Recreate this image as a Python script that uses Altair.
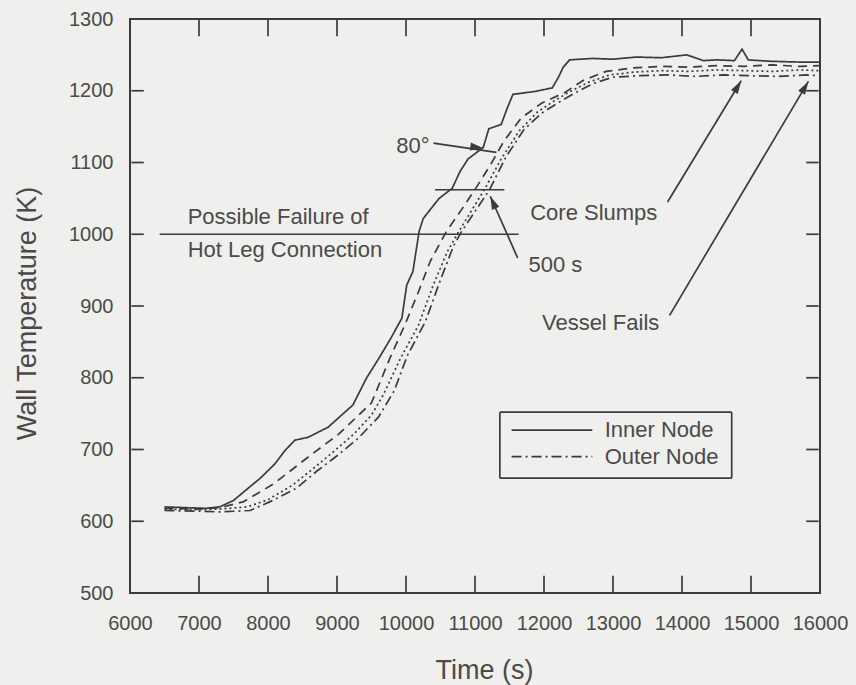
import altair as alt
import pandas as pd

# Wall temperature histories: time (s) and temperature (K) for four nodes through the wall
inner_time = [6500, 6800, 7100, 7300, 7500, 7700, 7900, 8100, 8250, 8390,
              8580, 8870, 9230, 9430, 9600, 9780, 9940, 10010, 10100, 10190,
              10250, 10480, 10670, 10780, 10900, 11120, 11200, 11380, 11460, 11550,
              11870, 12120, 12210, 12280, 12370, 12700, 13000, 13340, 13700, 14070,
              14310, 14500, 14760, 14870, 14960, 15300, 15700, 16000]
inner_temp = [620, 619, 618, 620, 629, 645, 661, 680, 699, 713,
              717, 731, 762, 800, 826, 855, 883, 929, 948, 1004,
              1022, 1050, 1064, 1087, 1105, 1121, 1147, 1153, 1174, 1195,
              1199, 1204, 1219, 1233, 1243, 1245, 1244, 1247, 1246, 1250,
              1242, 1243, 1242, 1258, 1243, 1241, 1240, 1240]

node2_time = [6500, 7000, 7300, 7640, 8080, 8630, 9020, 9500, 9770, 9990,
              10190, 10350, 10580, 10810, 11010, 11220, 11420, 11670, 11970, 12310,
              12560, 12900, 13300, 13700, 14100, 14500, 14900, 15300, 15700, 16000]
node2_temp = [618, 617, 619, 627, 652, 693, 721, 765, 828, 875,
              922, 962, 1003, 1035, 1064, 1096, 1130, 1162, 1183, 1198,
              1214, 1227, 1232, 1234, 1233, 1235, 1234, 1236, 1234, 1235]

node3_time = [6500, 7000, 7300, 7700, 8000, 8350, 8650, 8950, 9250, 9500,
              9670, 9920, 10180, 10390, 10600, 10760, 11140, 11380, 11640, 11900,
              12150, 12400, 12650, 12950, 13300, 13700, 14100, 14500, 14900, 15300,
              15700, 16000]
node3_temp = [617, 616, 617, 620, 630, 650, 673, 697, 722, 748,
              776, 827, 873, 928, 976, 1003, 1063, 1105, 1144, 1170,
              1186, 1200, 1212, 1222, 1226, 1228, 1227, 1229, 1228, 1227,
              1229, 1228]

outer_time = [6500, 7000, 7300, 7740, 8070, 8410, 8710, 9010, 9300, 9600,
              9830, 10020, 10280, 10490, 10690, 10800, 11210, 11450, 11710, 11970,
              12200, 12450, 12710, 13000, 13400, 13800, 14200, 14600, 15000, 15400,
              15800, 16000]
outer_temp = [615, 614, 613, 615, 629, 646, 670, 692, 715, 745,
              782, 831, 878, 934, 984, 1003, 1062, 1108, 1146, 1169,
              1183, 1197, 1210, 1219, 1221, 1222, 1220, 1222, 1221, 1220,
              1222, 1221]

node_names = ["Inner Node", "Node 2", "Node 3", "Outer Node"]
node_dashes = [[1, 0], [9, 6], [2, 3], [10, 4, 2, 4]]

x_ticks = list(range(6000, 16001, 1000))
y_ticks = list(range(500, 1301, 100))

series = [
    ("Inner Node", inner_time, inner_temp),
    ("Node 2", node2_time, node2_temp),
    ("Node 3", node3_time, node3_temp),
    ("Outer Node", outer_time, outer_temp),
]
curves = pd.DataFrame(
    [{"time": t, "temp": v, "node": name} for name, ts, vs in series for t, v in zip(ts, vs)]
)

# Annotation text (data coordinates)
labels = pd.DataFrame({
    "text": ["Possible Failure of", "Hot Leg Connection", "80\u00b0",
             "Core Slumps", "500 s", "Vessel Fails", "Inner Node", "Outer Node"],
    "time": [6836, 6836, 9860, 11800, 11776, 11970, 12880, 12880],
    "temp": [1024, 978, 1123, 1030, 957, 876, 727, 690],
})

# Pointer lines, threshold bars and the legend frame
segments = [
    (6430, 11630, 1000, 1000),    # hot leg failure threshold
    (10420, 11425, 1062, 1062),   # 500 s bar
    (10398, 11310, 1127, 1114),   # 80 deg pointer
    (13791, 14858, 1045, 1214),   # core slumps arrow
    (13820, 15832, 887, 1213),    # vessel fails arrow
    (11618, 11221, 967, 1053),    # 500 s arrow
    (11360, 14720, 752, 752),     # legend box
    (11360, 14720, 660, 660),
    (11360, 11360, 660, 752),
    (14720, 14720, 660, 752),
]
# Inward tick marks on all four frame sides (starting just inside the frame line)
for t in x_ticks[1:-1]:
    segments.append((t, t, 501.5, 524))
    segments.append((t, t, 1276, 1298.5))
for v in y_ticks[1:-1]:
    segments.append((6020, 6200, v, v))
    segments.append((15800, 15980, v, v))
segs = pd.DataFrame(segments, columns=["time", "time2", "temp", "temp2"])

# Legend key lines, styled like the curves they stand for
keys = pd.DataFrame({
    "node": ["Inner Node", "Outer Node"],
    "time": [11530, 11530], "time2": [12700, 12700],
    "temp": [727, 690],
})

heads = pd.DataFrame({
    "time": [14858, 15832, 11221, 11123],
    "temp": [1214, 1213, 1053, 1120],
    "ang": [31, 31, 336, 97],
})

INK = "#3b3b3b"
TEXT = "#4a4a4a"
BG = "#efefed"
FONT = "Liberation Sans"

x_scale = alt.Scale(domain=[6000, 16000], nice=False, zero=False)
y_scale = alt.Scale(domain=[500, 1300], nice=False, zero=False)
dash_scale = alt.Scale(domain=node_names, range=node_dashes)

x_axis = alt.Axis(
    values=x_ticks, format="d", title="Time (s)", ticks=False, tickSize=0, domain=False,
    grid=False, labelFont=FONT, labelFontSize=20, labelColor=TEXT, labelPadding=20,
    labelFlush=False, labelOverlap=False, titleFont=FONT, titleFontSize=27,
    titleFontWeight="normal", titleColor=TEXT, titleX=354, titleY=77,
    titleBaseline="middle", titleAlign="center",
)
y_axis = alt.Axis(
    values=y_ticks, format="d", title="Wall Temperature (K)", ticks=False, tickSize=0,
    domain=False, grid=False, labelFont=FONT, labelFontSize=20, labelColor=TEXT,
    labelPadding=17, labelFlush=False, labelOverlap=False, titleFont=FONT,
    titleFontSize=27, titleFontWeight="normal", titleColor=TEXT, titleX=-103,
    titleY=294, titleAngle=270, titleBaseline="middle", titleAlign="center",
)


def X(field="time"):
    return alt.X(f"{field}:Q", scale=x_scale, axis=x_axis)


def Y(field="temp"):
    return alt.Y(f"{field}:Q", scale=y_scale, axis=y_axis)


segment_lines = alt.Chart(segs).mark_rule(color=INK, strokeWidth=1.7).encode(
    x=X(), x2="time2:Q", y=Y(), y2="temp2:Q")

lines = alt.Chart(curves).mark_line(color=INK, strokeWidth=1.7).encode(
    x=X(),
    y=Y(),
    strokeDash=alt.StrokeDash("node:N", scale=dash_scale, legend=None),
)

legend_keys = alt.Chart(keys).mark_rule(color=INK, strokeWidth=1.7).encode(
    x=X(), x2="time2:Q", y=Y(),
    strokeDash=alt.StrokeDash("node:N", scale=dash_scale, legend=None),
)

arrow_heads = alt.Chart(heads).mark_point(
    shape="M0,0L0.3,1L-0.3,1Z", filled=True, color=INK, opacity=1, size=700,
).encode(x=X(), y=Y(), angle=alt.Angle("ang:Q", scale=None))

notes = alt.Chart(labels).mark_text(
    align="left", baseline="middle", font=FONT, fontSize=22, color=TEXT,
).encode(x=X(), y=Y(), text="text:N")

chart = alt.layer(
    segment_lines, lines, legend_keys, arrow_heads, notes,
).properties(
    width=690, height=574,
    autosize=alt.AutoSizeParams(type="none"),
    padding={"left": 130, "top": 19, "right": 36, "bottom": 92},
    background=BG,
).configure_view(
    stroke=INK, strokeWidth=2, fill=BG,
)

chart.save("out.html", embed_options={"renderer": "svg", "actions": False})
